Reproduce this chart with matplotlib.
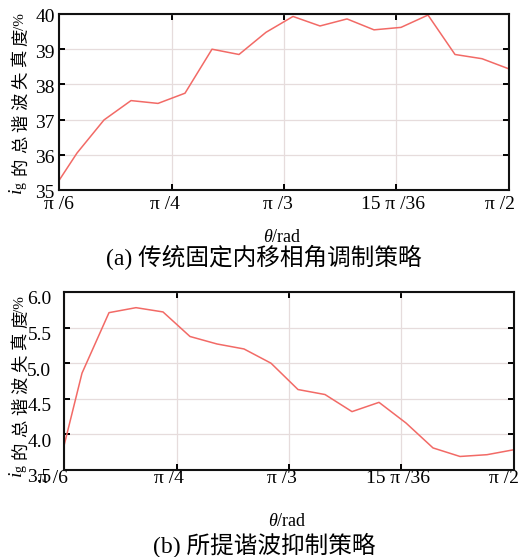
import numpy as np
import matplotlib
matplotlib.use('Agg')
import matplotlib.pyplot as plt
import matplotlib.transforms as mtrans

plt.rcParams['font.family'] = ['Liberation Serif', 'Noto Sans CJK SC']
plt.rcParams['mathtext.fontset'] = 'custom'
plt.rcParams['mathtext.rm'] = 'Liberation Serif'
plt.rcParams['mathtext.it'] = 'Liberation Serif:italic'

# data
theta_deg = [30, 32.4, 36, 39.6, 43.2, 46.8, 50.4, 54, 57.6, 61.2,
             64.8, 68.4, 72, 75.6, 79.2, 82.8, 86.4, 90]
thd_a = [35.27, 36.05, 36.99, 37.54, 37.46, 37.75, 39.0, 38.85, 39.48, 39.93,
         39.66, 39.86, 39.55, 39.62, 39.97, 38.85, 38.73, 38.44]
thd_b = [3.84, 4.86, 5.71, 5.78, 5.72, 5.375, 5.27, 5.20, 5.00, 4.63,
         4.56, 4.32, 4.45, 4.16, 3.81, 3.69, 3.715, 3.785]
xtick_vals = [np.pi/6, np.pi/4, np.pi/3, 15*np.pi/36, np.pi/2]
xtick_labels = ['π /6', 'π /4', 'π /3', '15 π /36', 'π /2']
yticks_a = [35, 36, 37, 38, 39, 40]
yticks_b = [3.5, 4.0, 4.5, 5.0, 5.5, 6.0]
ylabel_cn = '的总谐波失真度'
captions = ['(a) 传统固定内移相角调制策略', '(b) 所提谐波抑制策略']

theta = np.deg2rad(theta_deg)
line_color = '#f26a66'

fig = plt.figure(figsize=(5.28, 5.57), dpi=100)
W, H = 528, 557

def make_ax(l, r, t, b):
    return fig.add_axes([l/W, 1 - b/H, (r - l)/W, (b - t)/H])

def shift(label, dx, dy):
    off = mtrans.ScaledTranslation(dx/100, dy/100, fig.dpi_scale_trans)
    label.set_transform(label.get_transform() + off)

ax1 = make_ax(59, 509, 14, 190)
ax2 = make_ax(64, 514, 292, 470)

# per-axis layout: y data, y ticks, format, x pad, y pad, x label shifts, y label shift
setups = [
    (ax1, thd_a, yticks_a, '{:.0f}', 4, 3, [0, -7, -6, -3, -9], -2, 237),
    (ax2, thd_b, yticks_b, '{:.1f}', 0, 9, [-11, -8, -7, -3, -10], -6, 522),
]
for ax, y, yt, fmt, xpad, ypad, xdx, ydy, xlab_y in setups:
    ax.plot(theta, y, color=line_color, lw=1.1)
    ax.set_xlim(np.pi/6, np.pi/2)
    ax.set_ylim(yt[0], yt[-1])
    ax.set_xticks(xtick_vals)
    ax.set_xticklabels(xtick_labels, fontsize=14)
    ax.set_yticks(yt)
    ax.set_yticklabels([fmt.format(v) for v in yt], fontsize=14)
    ax.grid(True, color='#e6dcdc', lw=0.9)
    ax.tick_params(direction='in', length=4, width=1.4, top=True, right=True)
    ax.tick_params(axis='x', pad=xpad)
    ax.tick_params(axis='y', pad=ypad)
    for s in ax.spines.values():
        s.set_linewidth(1.5)
        s.set_color('#111111')
    for lab, dx in zip(ax.get_xticklabels(), xdx):
        shift(lab, dx, 0)
    for lab in ax.get_yticklabels():
        shift(lab, 0, ydy)
    fig.text(ax.get_position().x0 + ax.get_position().width/2 - 2/W, 1 - xlab_y/H,
             r'$\theta$/rad', fontsize=13, ha='center', va='center')

# y labels built from pieces: math subscript, Chinese characters one by one, small "/%"
# (x centre, bottom of i_g, centre of first char, char step, top of "/%")
for x, b_ig, c0, step, t_pct in [(19, 195, 166, 21.5, 13), (19, 478, 450, 21.7, 296)]:
    fig.text(x/W, 1 - b_ig/H, r'$i_\mathrm{g}$', fontsize=14, rotation=90,
             ha='center', va='bottom')
    for i, ch in enumerate(ylabel_cn):
        fig.text((x + 3)/W, 1 - (c0 - i*step)/H, ch, fontsize=12.5, rotation=90,
                 ha='center', va='center')
    fig.text((x + 2)/W, 1 - t_pct/H, '/%', fontsize=11, rotation=90,
             ha='center', va='top')

fig.text(0.5, 1 - 257/H, captions[0], fontsize=17, ha='center', va='center')
fig.text(0.5, 1 - 545/H, captions[1], fontsize=17, ha='center', va='center')

fig.savefig('out.png', dpi=100)
